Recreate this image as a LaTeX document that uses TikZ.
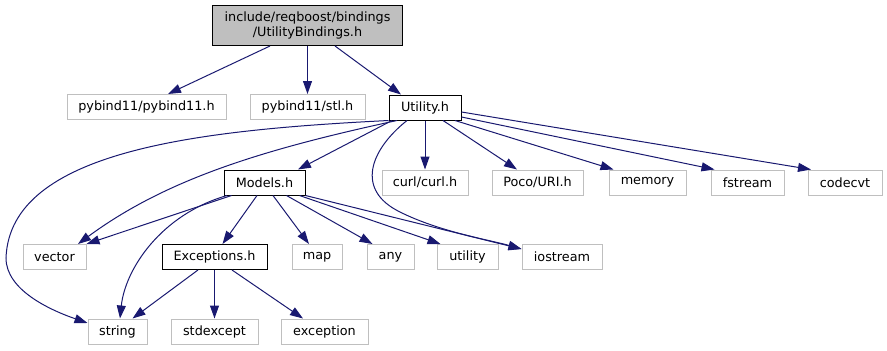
\documentclass[tikz,border=0pt]{standalone}
\usepackage{fontspec}
\setmainfont{DejaVu Sans}
\usetikzlibrary{arrows.meta}
\definecolor{edgeblue}{HTML}{191970}
\definecolor{lightframe}{HTML}{BFBFBF}
\begin{document}
\begin{tikzpicture}[x=1pt,y=-1pt,
  box/.style={draw, line width=1pt, inner sep=0pt, minimum height=25pt,
    font=\fontsize{12.8}{15}\selectfont, align=center},
  sysbox/.style={box, draw=lightframe},
  filebox/.style={box, draw=black},
  rootbox/.style={box, draw=black, fill=lightframe, minimum height=40pt},
  dep/.style={draw=edgeblue, line width=1pt, -{Triangle[length=13pt,width=9pt]}}
]
\useasboundingbox (0,0) rectangle (887,351);

% top level
\node[rootbox, minimum width=190pt] (root) at (307.5,25.5)
  {include/reqboost/bindings\\/UtilityBindings.h};

% first level includes
\node[sysbox, minimum width=159pt] (pyb) at (146.5,107) {pybind11/pybind11.h};
\node[sysbox, minimum width=115pt] (stl) at (307.5,107) {pybind11/stl.h};
\node[filebox, minimum width=72pt] (util) at (425,107.5) {Utility.h};

% second level
\node[filebox, minimum width=81pt] (models) at (264.5,182.5) {Models.h};
\node[sysbox, minimum width=86pt] (curl) at (425,182.5) {curl/curl.h};
\node[sysbox, minimum width=91pt] (poco) at (537.5,182.5) {Poco/URI.h};
\node[sysbox, minimum width=77pt] (memory) at (647.5,182.5) {memory};
\node[sysbox, minimum width=73pt] (fstream) at (747.5,182.5) {fstream};
\node[sysbox, minimum width=74pt] (codecvt) at (845,182.5) {codecvt};

% third level
\node[sysbox, minimum width=63pt] (vector) at (54.5,257) {vector};
\node[filebox, minimum width=105pt] (exc) at (214.5,257) {Exceptions.h};
\node[sysbox, minimum width=50pt] (map) at (317,257) {map};
\node[sysbox, minimum width=47pt] (any) at (390.5,257) {any};
\node[sysbox, minimum width=61pt] (utility) at (467.5,257) {utility};
\node[sysbox, minimum width=80pt] (iostream) at (562,257) {iostream};

% fourth level
\node[sysbox, minimum width=59pt] (string) at (117.5,331.5) {string};
\node[sysbox, minimum width=87pt] (stdexcept) at (214.5,331.5) {stdexcept};
\node[sysbox, minimum width=87pt] (exception) at (324.5,331.5) {exception};

% UtilityBindings.h
\draw[dep] ([xshift=-37.5pt]root.south) -- ([xshift=21.5pt]pyb.north);
\draw[dep] (root.south) -- (stl.north);
\draw[dep] ([xshift=27.5pt]root.south) -- ([xshift=-24pt]util.north);

% Utility.h
\draw[dep] (util.south) -- (curl.north);
\draw[dep] ([xshift=18pt]util.south) -- ([xshift=-20.5pt]poco.north);
\draw[dep] ([xshift=30pt]util.south) -- ([xshift=-34pt]memory.north);
\draw[dep] ([yshift=-9.5pt]util.east) -- ([xshift=-33pt]fstream.north);
\draw[dep] ([yshift=-4.5pt]util.east) -- ([xshift=-34pt]codecvt.north);
\draw[dep] ([xshift=-33pt]util.south) -- ([xshift=33.5pt]models.north);
\draw[dep] ([xshift=-28pt]util.south) .. controls (260,150) and (165,180) .. ([xshift=23.5pt]vector.north);
\coordinate (bendL) at (6,258);
\draw[dep] (util.south west) .. controls (200,130) and (10,150) .. (bendL)
  .. controls (6,290) and (50,310) .. ([yshift=8.5pt]string.west);
\coordinate (bendR) at (400,212);
\draw[dep] ([xshift=-18pt]util.south) .. controls (370,150) and (355,190) .. (bendR)
  .. controls (440,232) and (490,240) .. ([yshift=8pt]iostream.west);

% Models.h
\draw[dep] ([xshift=-33pt]models.south) -- (vector.north east);
\draw[dep] ([xshift=-37.5pt]models.south) .. controls (160,215) and (125,270) .. ([xshift=2.5pt]string.north);
\draw[dep] ([xshift=-7.5pt]models.south) -- ([xshift=8pt]exc.north);
\draw[dep] ([xshift=8.5pt]models.south) -- ([xshift=-8pt]map.north);
\draw[dep] ([xshift=22pt]models.south) -- ([xshift=-18pt]any.north);
\draw[dep] ([xshift=35pt]models.south) -- ([xshift=-27pt]utility.north);
\draw[dep] (models.south east) -- ([yshift=8pt]iostream.west);

% Exceptions.h
\draw[dep] ([xshift=-16.5pt]exc.south) -- ([xshift=15pt]string.north);
\draw[dep] (exc.south) -- (stdexcept.north);
\draw[dep] ([xshift=17.5pt]exc.south) -- ([xshift=-21.5pt]exception.north);
\end{tikzpicture}
\end{document}
